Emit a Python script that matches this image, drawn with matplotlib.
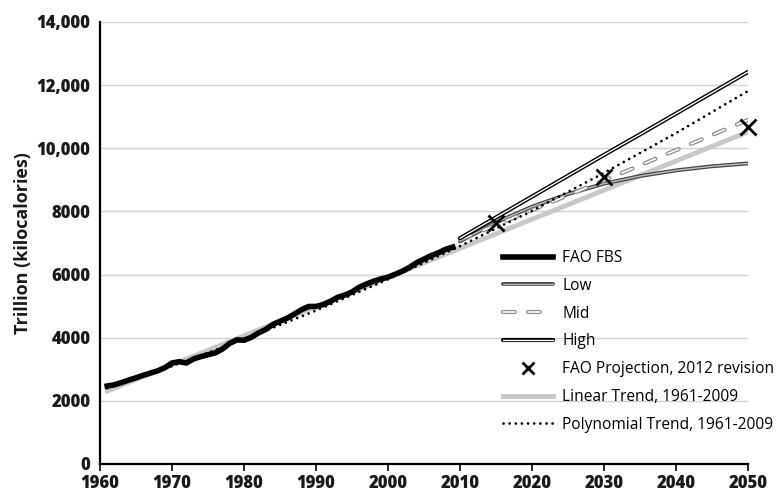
import matplotlib
matplotlib.use("Agg")
import matplotlib.pyplot as plt
import matplotlib.patheffects as pe

plt.rcParams["font.family"] = ["Open Sans", "DejaVu Sans"]

# FAO food balance sheets, 1961-2009
fbs_years = list(range(1961, 2010))
fbs_values = [2470, 2510, 2580, 2660, 2730, 2810, 2880, 2950, 3050, 3200,
              3240, 3200, 3330, 3400, 3460, 3520, 3640, 3820, 3930, 3920,
              4010, 4150, 4260, 4420, 4520, 4620, 4750, 4890, 4990, 4990,
              5050, 5150, 5280, 5350, 5450, 5600, 5700, 5790, 5860, 5920,
              6010, 6110, 6230, 6380, 6490, 6600, 6690, 6800, 6870]

# scenario projections
proj_years = [2010, 2015, 2020, 2025, 2030, 2035, 2040, 2045, 2050]
low = [7050, 7650, 8150, 8550, 8880, 9120, 9300, 9430, 9520]
mid = [7100, 7570, 8040, 8510, 8980, 9460, 9940, 10420, 10900]
high = [7150, 7810, 8470, 9130, 9790, 10440, 11100, 11760, 12420]

# FAO projection, 2012 revision
fao_years = [2015, 2030, 2050]
fao_values = [7640, 9090, 10680]

# trends fitted on 1961-2009
lin_years = [1961, 2050]
lin_values = [2310, 10520]
poly_years = [1961, 1970, 1980, 1990, 2000, 2010, 2020, 2030, 2040, 2050]
poly_values = [2400, 3100, 3950, 4860, 5850, 6900, 8020, 9220, 10480, 11815]

y_ticks = [0, 2000, 4000, 6000, 8000, 10000, 12000, 14000]
y_labels = ["0", "2000", "4000", "6000", "8000", "10,000", "12,000", "14,000"]
x_ticks = list(range(1960, 2051, 10))

fig = plt.figure(figsize=(7.79, 4.92), dpi=100)
ax = fig.add_axes([100 / 779, 28 / 492, 648 / 779, 442 / 492])

ax.plot(lin_years, lin_values, color="#c8c8c8", linewidth=3.5,
        label="Linear Trend, 1961-2009", zorder=2)
ax.plot(fbs_years, fbs_values, color="black", linewidth=4,
        label="FAO FBS", zorder=3)

ax.plot(proj_years, low, color="#c0c0c0", linewidth=1.0, label="Low", zorder=4,
        solid_capstyle="round",
        path_effects=[pe.Stroke(linewidth=2.8, foreground="#444444"), pe.Normal()])
ax.plot(proj_years, mid, color="white", linewidth=1.2, linestyle=(0, (7, 8)),
        dash_capstyle="round", label="Mid", zorder=4,
        path_effects=[pe.Stroke(linewidth=3.0, foreground="#8a8a8a"), pe.Normal()])
ax.plot(proj_years, high, color="white", linewidth=1.0, label="High", zorder=4,
        solid_capstyle="round",
        path_effects=[pe.Stroke(linewidth=3.0, foreground="black"), pe.Normal()])

ax.plot(fao_years, fao_values, linestyle="none", marker="x", markersize=11,
        markeredgewidth=2, color="black", label="FAO Projection, 2012 revision",
        zorder=6, clip_on=False)
ax.plot(poly_years, poly_values, color="black", linewidth=2.0,
        linestyle=(0, (0.01, 2.2)), dash_capstyle="round",
        label="Polynomial Trend, 1961-2009", zorder=5)

ax.set_xlim(1960, 2050)
ax.set_ylim(0, 14000)
ax.set_xticks(x_ticks, labels=[str(x) for x in x_ticks])
ax.set_yticks(y_ticks, labels=y_labels)
ax.grid(axis="y", color="#d0d0d0", linewidth=1)
ax.set_axisbelow(True)

for side in ["top", "right"]:
    ax.spines[side].set_visible(False)
for side in ["left", "bottom"]:
    ax.spines[side].set_linewidth(1.6)

ax.tick_params(axis="x", length=5, width=1.2, labelsize=12, pad=3)
ax.tick_params(axis="y", length=0, labelsize=12, pad=7)
for lbl in ax.get_xticklabels() + ax.get_yticklabels():
    lbl.set_fontweight("heavy")
    lbl.set_color("#1a1a1a")

ax.set_ylabel("Trillion (kilocalories)", fontsize=13, fontweight="bold",
              color="#1a1a1a", labelpad=3)

handles, labels = ax.get_legend_handles_labels()
order = ["FAO FBS", "Low", "Mid", "High", "FAO Projection, 2012 revision",
         "Linear Trend, 1961-2009", "Polynomial Trend, 1961-2009"]
hmap = dict(zip(labels, handles))
fig.legend([hmap[k] for k in order], order, loc="upper left",
           bbox_to_anchor=(503 / 779, 1 - 250 / 492), frameon=False,
           fontsize=11.2, handlelength=3.2, labelspacing=0.76, handletextpad=0.6,
           borderpad=0, borderaxespad=0, markerscale=0.75)

fig.savefig("out.png", dpi=100)
